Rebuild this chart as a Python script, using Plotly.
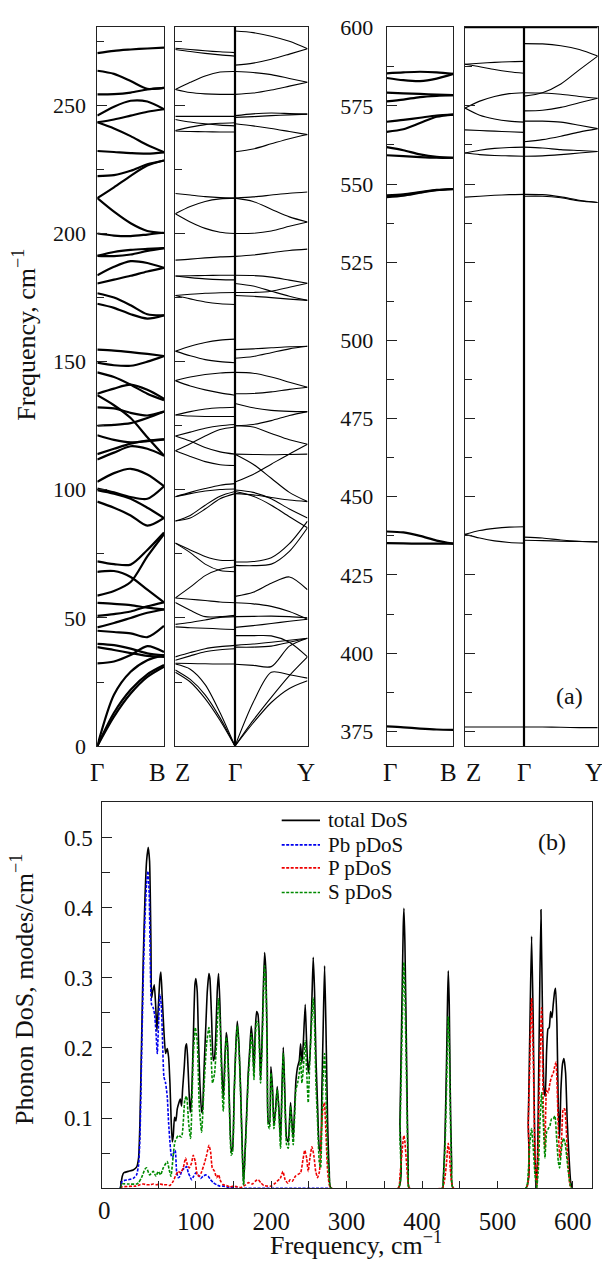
import plotly.graph_objects as go

W, H = 602, 1264

# ---------------- data: phonon dispersion (cm^-1) ----------------
# each branch: frequency at fractions 0, .25, .5, .75, 1 of the segment
K5 = [0.0, 0.25, 0.5, 0.75, 1.0]
G_POS_LOW = 0.4516   # relative position of Gamma on Z-Gamma-Y path (low panel)
G_POS_HIGH = 0.4446  # same for high-frequency panel

GB_LOW = [
    [270.4, 271.3, 271.8, 272.2, 272.5],
    [263.5, 262.3, 259.5, 256.5, 256.8],
    [254.3, 254.4, 255.0, 256.2, 256.8],
    [246.0, 249.5, 251.8, 251.5, 248.5],
    [243.4, 244.5, 246.0, 247.5, 248.5],
    [243.4, 241.0, 238.0, 234.5, 231.7],
    [232.2, 231.8, 231.4, 231.2, 231.7],
    [222.4, 222.8, 224.5, 227.0, 228.5],
    [213.8, 218.0, 222.5, 226.5, 228.5],
    [213.8, 208.5, 204.0, 201.0, 200.2],
    [200.0, 199.2, 199.0, 199.6, 200.3],
    [191.3, 192.8, 193.6, 194.0, 194.3],
    [191.3, 191.2, 191.8, 193.2, 194.3],
    [183.7, 187.0, 189.2, 188.5, 186.6],
    [180.5, 182.0, 183.5, 185.2, 186.6],
    [176.7, 175.0, 172.0, 168.5, 168.1],
    [172.6, 171.0, 168.5, 166.8, 168.1],
    [154.7, 154.3, 153.7, 153.0, 152.2],
    [149.6, 148.6, 148.4, 150.0, 152.2],
    [145.8, 144.0, 141.0, 137.5, 135.0],
    [137.5, 139.5, 141.0, 139.0, 135.5],
    [136.9, 133.0, 128.0, 120.5, 113.3],
    [132.2, 131.8, 130.0, 129.0, 130.5],
    [125.0, 125.3, 126.0, 128.0, 130.5],
    [121.3, 119.5, 118.5, 119.0, 119.7],
    [113.9, 116.0, 118.0, 119.2, 119.7],
    [111.8, 114.5, 117.0, 116.0, 113.3],
    [103.1, 106.5, 108.2, 106.0, 101.4],
    [100.5, 99.0, 97.2, 96.5, 101.4],
    [99.9, 98.5, 96.5, 93.0, 89.0],
    [95.4, 93.0, 90.0, 86.0, 89.0],
    [72.1, 71.0, 70.8, 76.5, 83.3],
    [68.0, 68.3, 66.0, 61.0, 56.1],
    [58.7, 60.5, 64.0, 74.0, 82.7],
    [55.9, 55.5, 55.0, 54.0, 53.3],
    [50.8, 51.5, 52.5, 54.5, 56.1],
    [46.3, 48.0, 50.0, 52.0, 53.3],
    [45.0, 44.5, 44.0, 42.5, 46.9],
    [39.9, 39.4, 38.0, 36.2, 35.4],
    [38.6, 37.5, 36.3, 35.2, 34.8],
    [32.3, 33.0, 35.5, 39.0, 36.7],
    [0.0, 20.0, 29.0, 33.5, 35.5],
    [0.0, 13.0, 22.0, 28.0, 31.6],
    [0.0, 11.5, 20.5, 27.0, 31.0],
]

ZG_LOW = [
    [272.3, 271.8, 271.3, 270.9, 270.6],
    [271.8, 271.0, 270.3, 269.7, 269.2],
    [256.2, 259.0, 261.5, 263.0, 263.2],
    [256.2, 255.0, 254.5, 254.3, 254.3],
    [245.7, 245.7, 245.7, 245.7, 245.7],
    [244.5, 243.5, 242.8, 242.3, 242.0],
    [240.2, 241.5, 242.5, 243.0, 243.2],
    [240.0, 239.8, 239.7, 239.6, 239.6],
    [215.6, 215.0, 214.4, 214.0, 213.8],
    [207.7, 210.5, 212.5, 213.5, 213.8],
    [207.7, 204.5, 202.0, 200.5, 200.0],
    [189.6, 190.0, 190.5, 190.9, 191.1],
    [183.4, 183.5, 183.6, 183.7, 183.7],
    [183.4, 182.8, 182.3, 182.0, 181.9],
    [175.8, 176.3, 176.7, 176.9, 177.0],
    [175.8, 174.5, 173.3, 172.6, 172.3],
    [154.1, 156.0, 157.5, 158.4, 158.8],
    [154.1, 152.3, 150.8, 150.0, 149.6],
    [142.6, 144.0, 145.0, 145.6, 145.8],
    [142.6, 140.5, 139.0, 137.8, 136.9],
    [129.2, 130.5, 131.5, 132.0, 132.2],
    [129.2, 128.8, 128.6, 128.6, 128.6],
    [121.0, 122.5, 124.0, 125.0, 125.5],
    [115.2, 118.0, 121.0, 123.5, 124.5],
    [121.0, 119.0, 116.5, 114.8, 113.9],
    [115.2, 113.0, 111.0, 109.8, 109.5],
    [97.3, 99.0, 100.5, 101.8, 102.4],
    [97.3, 98.5, 99.5, 100.1, 100.3],
    [87.8, 90.0, 94.0, 97.5, 99.3],
    [87.8, 89.0, 92.5, 96.5, 98.5],
    [79.2, 76.5, 74.0, 72.5, 72.5],
    [79.2, 75.5, 71.0, 68.5, 68.0],
    [57.8, 62.0, 66.5, 69.0, 70.0],
    [57.8, 57.3, 56.8, 56.2, 55.9],
    [56.0, 53.0, 50.5, 50.5, 51.0],
    [47.5, 48.2, 49.2, 50.2, 50.5],
    [46.5, 46.2, 46.0, 45.7, 45.5],
    [34.8, 36.5, 38.0, 38.8, 39.3],
    [33.5, 35.2, 36.8, 37.6, 38.0],
    [32.3, 32.2, 32.1, 32.0, 32.0],
    [29.7, 26.0, 20.0, 11.0, 0.0],
    [28.8, 25.0, 18.5, 10.0, 0.0],
    [32.0, 30.0, 24.0, 13.0, 0.0],
]

GY_LOW = [
    [279.0, 278.4, 277.0, 275.0, 272.1],
    [265.7, 266.5, 268.0, 270.0, 272.1],
    [263.2, 262.8, 262.0, 260.5, 259.0],
    [254.3, 254.8, 256.0, 257.5, 259.0],
    [246.0, 246.7, 247.0, 246.8, 246.6],
    [245.3, 245.6, 246.0, 246.3, 246.6],
    [242.8, 242.0, 241.0, 239.8, 238.6],
    [231.9, 233.0, 235.0, 237.0, 238.6],
    [213.8, 214.3, 215.0, 215.7, 216.2],
    [213.8, 212.5, 209.5, 206.5, 204.5],
    [200.0, 200.1, 201.0, 202.8, 204.5],
    [191.1, 191.6, 192.5, 193.4, 193.9],
    [183.7, 183.6, 183.0, 181.8, 180.6],
    [180.5, 179.5, 177.5, 175.5, 173.9],
    [177.0, 177.0, 177.5, 179.0, 180.6],
    [175.8, 175.5, 175.0, 174.4, 173.9],
    [154.7, 155.0, 155.4, 155.8, 156.0],
    [151.3, 152.0, 153.5, 155.0, 156.0],
    [145.8, 145.5, 144.0, 142.0, 140.0],
    [137.5, 137.6, 138.2, 139.2, 140.0],
    [133.7, 132.0, 131.0, 130.6, 130.5],
    [125.0, 125.5, 127.0, 129.0, 130.5],
    [125.0, 124.5, 122.0, 119.5, 117.8],
    [113.9, 113.8, 113.7, 113.8, 113.9],
    [113.9, 110.0, 104.5, 99.0, 95.4],
    [103.0, 106.0, 110.0, 114.0, 117.8],
    [99.9, 99.0, 96.5, 92.5, 89.0],
    [99.3, 97.5, 94.0, 89.5, 85.2],
    [98.5, 98.0, 97.0, 96.0, 95.4],
    [71.8, 72.0, 73.5, 79.0, 87.8],
    [70.5, 70.4, 71.0, 76.0, 85.2],
    [58.4, 60.0, 63.5, 66.0, 61.0],
    [55.9, 55.5, 54.5, 52.5, 49.5],
    [50.5, 50.6, 50.7, 50.5, 50.1],
    [46.3, 47.0, 47.8, 48.7, 49.5],
    [43.1, 43.1, 43.0, 40.5, 34.8],
    [39.3, 39.8, 40.5, 41.3, 42.1],
    [38.6, 38.6, 39.0, 40.5, 42.1],
    [31.9, 31.5, 31.0, 39.0, 42.1],
    [0.0, 17.0, 28.8, 27.8, 26.5],
    [0.0, 10.0, 19.0, 27.5, 34.8],
    [0.0, 9.0, 17.0, 22.5, 25.5],
]

GB_HIGH = [
    [585.4, 585.7, 585.9, 585.7, 585.2],
    [583.9, 583.2, 582.9, 583.7, 585.2],
    [579.2, 579.0, 578.8, 578.6, 578.4],
    [576.4, 577.0, 577.8, 578.2, 578.4],
    [569.9, 570.5, 571.2, 571.9, 572.2],
    [566.7, 567.5, 569.5, 571.5, 572.2],
    [561.8, 560.8, 559.5, 558.7, 558.4],
    [559.2, 558.9, 558.6, 558.4, 558.4],
    [545.8, 546.3, 547.2, 548.0, 548.4],
    [546.4, 546.7, 547.4, 548.1, 548.4],
    [438.9, 438.6, 437.5, 436.0, 435.0],
    [435.2, 435.1, 435.0, 435.0, 435.0],
    [376.6, 376.3, 375.9, 375.6, 375.5],
]

ZG_HIGH = [
    [600.0, 600.0, 600.0, 600.0, 600.0],
    [588.3, 588.6, 588.9, 589.1, 589.2],
    [588.3, 587.5, 586.6, 585.9, 585.4],
    [574.3, 576.5, 578.0, 578.9, 579.2],
    [574.3, 572.0, 570.8, 570.1, 569.8],
    [567.3, 567.1, 566.9, 566.7, 566.5],
    [559.9, 560.8, 561.4, 561.7, 561.8],
    [559.9, 559.4, 559.1, 559.0, 558.9],
    [545.8, 546.1, 546.4, 546.6, 546.7],
    [438.0, 439.2, 439.9, 440.3, 440.4],
    [438.0, 436.8, 435.9, 435.4, 435.2],
    [376.4, 376.4, 376.4, 376.4, 376.4],
]

GY_HIGH = [
    [600.0, 600.0, 600.0, 600.0, 600.0],
    [594.9, 594.8, 594.2, 593.0, 590.9],
    [578.1, 579.2, 582.0, 586.5, 590.9],
    [579.2, 579.1, 578.7, 578.0, 577.4],
    [573.4, 573.6, 574.5, 576.0, 577.4],
    [570.1, 570.1, 569.8, 568.8, 567.7],
    [563.5, 564.2, 565.3, 566.6, 567.7],
    [561.8, 561.5, 561.0, 560.7, 560.4],
    [558.9, 559.0, 559.4, 559.9, 560.4],
    [546.1, 546.1, 545.6, 544.6, 544.1],
    [546.7, 546.6, 545.9, 544.8, 544.1],
    [437.1, 436.8, 436.2, 435.8, 435.6],
    [436.1, 436.0, 435.8, 435.7, 435.6],
    [376.4, 376.4, 376.3, 376.2, 376.2],
]

# ---------------- data: phonon DoS ----------------
TOTAL_F = [0, 2.5, 4.5, 10.4, 17, 21.4, 24.1, 25.9, 28.1, 30.3, 32.5, 34.7, 36.9, 38.7, 40.5, 41.3, 42.7, 44.9,
           46.7, 48.4, 50.2, 52.4, 53.7, 55.5, 57.7, 59.9, 62.1, 63.9, 65.7, 67.4, 68.8, 70.1, 71.8, 73.6, 75.4,
           77.6, 79.4, 81.1, 82.5, 84.7, 86.4, 87.8, 89.1, 90.9, 92.6, 94.4, 96.6, 98.8, 100.1, 101.9, 103.7,
           105.4, 107.7, 109, 110.7, 113, 115.2, 117.4, 118.7, 120.9, 123.1, 124.9, 126.7, 128.4, 130.2, 132,
           134.2, 136.4, 138.6, 140.4, 142.1, 144.3, 147, 148.8, 151, 153.2, 155, 157.2, 159.4, 161.6, 163.3,
           165.1, 167.3, 169.5, 171.7, 173.5, 175.3, 177.1, 178.8, 180.6, 182.4, 184.1, 185.9, 187.7, 189.4,
           191.2, 193, 194.7, 196.1, 197.8, 199.6, 201.8, 203.6, 205.8, 208, 210.2, 212.4, 214.2, 216, 217.7,
           220.4, 222.6, 224.4, 225.7, 227.5, 229.2, 231, 232.8, 235, 237.2, 239, 240.7, 242.5, 245.1, 246.9,
           249.1, 251.3, 254, 255.7, 257.5, 259.3, 261.5, 263.7, 265.5, 267.2, 269, 270.8, 272.5, 274.8, 277,
           279.2, 368.5, 370.7, 372.9, 375.1, 376, 377.3, 379.5, 381.7, 383, 427.3, 428.1, 430.4, 432.6, 433.9,
           434.8, 436.1, 437.4, 439.2, 441.4, 537.8, 540.9, 543.1, 545.3, 547.5, 549.7, 551.9, 553.3, 555.5,
           557.7, 559.9, 561.7, 563.4, 565.2, 567, 568.7, 570.5, 572.3, 574, 575.8, 577.1, 578.9, 580.7, 582.4,
           584.2, 586.4, 588.2, 590.4, 592.6, 594.8, 597, 599.2]
TOTAL_V = [0, 0.017, 0.022, 0.024, 0.026, 0.030, 0.043, 0.094, 0.21, 0.327, 0.411, 0.466, 0.486, 0.466, 0.35,
           0.271, 0.28, 0.29, 0.262, 0.224, 0.257, 0.299, 0.308, 0.271, 0.224, 0.192, 0.199, 0.187, 0.15, 0.094,
           0.066, 0.075, 0.101, 0.096, 0.113, 0.122, 0.127, 0.117, 0.141, 0.173, 0.201, 0.206, 0.187, 0.141,
           0.108, 0.131, 0.21, 0.29, 0.299, 0.28, 0.206, 0.15, 0.108, 0.113, 0.164, 0.224, 0.28, 0.306, 0.299,
           0.243, 0.182, 0.187, 0.224, 0.28, 0.306, 0.262, 0.178, 0.127, 0.187, 0.222, 0.206, 0.131, 0.052,
           0.057, 0.141, 0.206, 0.238, 0.206, 0.141, 0.057, 0.005, 0.047, 0.103, 0.164, 0.201, 0.231, 0.21,
           0.164, 0.224, 0.252, 0.248, 0.22, 0.154, 0.206, 0.28, 0.336, 0.308, 0.196, 0.094, 0.092, 0.173,
           0.141, 0.089, 0.113, 0.145, 0.113, 0.066, 0.141, 0.201, 0.15, 0.071, 0.066, 0.099, 0.122, 0.094,
           0.071, 0.113, 0.154, 0.173, 0.182, 0.206, 0.178, 0.206, 0.262, 0.21, 0.164, 0.187, 0.271, 0.329,
           0.28, 0.187, 0.117, 0.057, 0.052, 0.141, 0.234, 0.317, 0.234, 0.094, 0.024, 0, 0, 0.094, 0.234,
           0.373, 0.399, 0.35, 0.187, 0.024, 0, 0, 0.01, 0.071, 0.187, 0.271, 0.31, 0.262, 0.141, 0.038, 0, 0,
           0.094, 0.234, 0.359, 0.234, 0.047, 0.002, 0.047, 0.234, 0.397, 0.234, 0.141, 0.131, 0.196, 0.227,
           0.229, 0.252, 0.243, 0.262, 0.28, 0.285, 0.234, 0.117, 0.071, 0.141, 0.178, 0.185, 0.164, 0.094,
           0.047, 0.01, 0]

PB_F = [0, 2.5, 10.4, 17, 21.4, 24.1, 25.9, 28.1, 30.3, 32.5, 34.7, 36.5, 38.2, 39.6, 41.3, 43.6, 45.3, 47.1,
        48.9, 50.6, 52.4, 54.2, 56, 57.7, 59.9, 62.1, 63.9, 65.7, 67.4, 69.2, 71, 72.7, 74.5, 76.7, 79, 81.1,
        83.3, 85.5, 87.8, 90, 92.2, 94.4, 96.6, 100.1, 103.3, 106.4, 109.6, 113, 116.5, 119.6, 123.1, 127.5,
        132, 136.4, 145, 154, 279]
PB_V = [0, 0.01, 0.012, 0.014, 0.019, 0.033, 0.071, 0.187, 0.299, 0.383, 0.434, 0.452, 0.42, 0.327, 0.262,
        0.257, 0.248, 0.224, 0.192, 0.234, 0.276, 0.262, 0.206, 0.159, 0.15, 0.131, 0.094, 0.066, 0.047, 0.043,
        0.052, 0.054, 0.024, 0.015, 0.017, 0.024, 0.027, 0.029, 0.031, 0.022, 0.017, 0.012, 0.016, 0.022,
        0.019, 0.014, 0.017, 0.019, 0.017, 0.012, 0.008, 0.005, 0.003, 0.003, 0.001, 0, 0]

P_F = [0, 2.5, 20, 25.9, 30.3, 34.7, 39, 43.6, 48, 52.4, 57, 61.6, 65.7, 70.1, 73.6, 76.7, 79.8, 83.3, 86.4,
       88.7, 91.3, 94.4, 96.6, 99.3, 101.9, 104.6, 107.2, 110.7, 114.3, 117.4, 119.6, 121.8, 124.9, 127.5,
       130.2, 132.9, 136.4, 140.8, 145, 150, 155, 160, 165, 170, 175, 180, 183, 186, 190, 195, 200, 205, 208,
       212, 215.5, 218.5, 222, 225, 228, 232, 236, 239, 242, 244.5, 247, 249, 251.3, 254, 256.5, 259, 261.5,
       264, 266.5, 268.5, 270.5, 272.5, 274.8, 277, 279.2, 368.5, 370.7, 372.9, 375.1, 376, 377.3, 379.5,
       381.7, 383, 427.3, 428.1, 430.4, 432.6, 433.9, 434.8, 436.1, 437.4, 439.2, 441.4, 537.8, 540.9, 543.1,
       545.3, 547.5, 549.7, 551.9, 554.1, 556.4, 558.6, 560.8, 563, 565.2, 567.4, 569.6, 571.8, 574, 575.8,
       577.6, 579.3, 581.1, 582.9, 585.1, 587.3, 589.1, 590.8, 593, 596.1, 598.3]
P_V = [0, 0.002, 0.003, 0.005, 0.006, 0.005, 0.005, 0.006, 0.005, 0.006, 0.005, 0.005, 0.004, 0.01, 0.019,
       0.024, 0.022, 0.029, 0.043, 0.034, 0.029, 0.036, 0.047, 0.038, 0.019, 0.017, 0.022, 0.033, 0.047,
       0.061, 0.052, 0.029, 0.024, 0.015, 0.019, 0.01, 0.005, 0.004, 0.002, 0.003, 0.002, 0.001, 0.004,
       0.008, 0.006, 0.011, 0.012, 0.008, 0.004, 0.003, 0.003, 0.007, 0.01, 0.014, 0.024, 0.012, 0.007,
       0.012, 0.01, 0.017, 0.02, 0.022, 0.04, 0.054, 0.043, 0.024, 0.043, 0.059, 0.047, 0.024, 0.015, 0.024,
       0.08, 0.113, 0.122, 0.08, 0.024, 0.005, 0, 0, 0.018, 0.044, 0.07, 0.075, 0.066, 0.035, 0.005, 0, 0,
       0.002, 0.015, 0.038, 0.056, 0.064, 0.054, 0.029, 0.008, 0, 0, 0.094, 0.187, 0.271, 0.187, 0.047, 0,
       0.071, 0.187, 0.257, 0.117, 0.057, 0.141, 0.136, 0.15, 0.159, 0.164, 0.173, 0.18, 0.141, 0.071, 0.043,
       0.071, 0.113, 0.113, 0.094, 0.047, 0.005, 0]

S_F = [0, 2.5, 10, 21.4, 24.1, 28, 32.5, 34.7, 38.7, 43.6, 47.1, 50.2, 53.3, 56.8, 62.1, 64.8, 67, 72.3, 76.7,
       81.1, 85.5, 87.8, 90.4, 93.1, 96.6, 99.3, 101.9, 104.6, 107.7, 110.7, 114.3, 117.4, 119.6, 122.2, 124.9,
       127.5, 130.2, 132, 134.2, 136.4, 138.6, 140.4, 142.1, 144.3, 147, 148.8, 151, 153.2, 155, 157.2, 159.4,
       161.6, 163.3, 165.1, 167.3, 169.5, 171.7, 173.5, 175.3, 177.1, 178.8, 180.6, 182.4, 184.1, 185.9,
       187.7, 189.4, 191.2, 193, 194.7, 196.1, 197.8, 199.6, 201.8, 203.6, 205.8, 208, 210.2, 212.4, 214.2,
       216, 217.7, 220.4, 222.6, 224.4, 225.7, 227.5, 229.2, 231, 232.8, 235, 237.2, 239, 240.7, 242.5, 245.1,
       246.9, 249.1, 251.3, 254, 255.7, 257.5, 259.3, 261.5, 263.7, 265.5, 267.2, 269, 270.8, 272.5, 274.8,
       277, 279.2, 368.5, 370.7, 372.9, 375.1, 376, 377.3, 379.5, 381.7, 383, 427.3, 428.1, 430.4, 432.6,
       433.9, 434.8, 436.1, 437.4, 439.2, 441.4, 537.8, 540.9, 543.1, 545.3, 547.5, 549.7, 551.9, 554.1,
       556.4, 558.6, 560.8, 563, 565.2, 567.4, 569.6, 571.8, 574, 576.2, 578.5, 580.7, 582.4, 585.1, 587.3,
       589.5, 591.7, 593.9, 597, 598.3]
S_V = [0, 0.006, 0.006, 0.006, 0.008, 0.015, 0.027, 0.029, 0.019, 0.024, 0.017, 0.024, 0.019, 0.029, 0.038,
       0.026, 0.017, 0.066, 0.075, 0.073, 0.126, 0.131, 0.094, 0.071, 0.187, 0.229, 0.21, 0.117, 0.08, 0.141,
       0.206, 0.229, 0.206, 0.15, 0.164, 0.206, 0.27, 0.24, 0.16, 0.11, 0.17, 0.215, 0.2, 0.125, 0.047, 0.052,
       0.133, 0.2, 0.232, 0.2, 0.135, 0.052, 0.004, 0.042, 0.096, 0.155, 0.19, 0.22, 0.198, 0.155, 0.21,
       0.238, 0.236, 0.205, 0.15, 0.195, 0.26, 0.317, 0.29, 0.185, 0.089, 0.085, 0.164, 0.134, 0.085, 0.108,
       0.141, 0.108, 0.057, 0.13, 0.192, 0.14, 0.062, 0.057, 0.09, 0.117, 0.085, 0.062, 0.1, 0.141, 0.15,
       0.164, 0.187, 0.15, 0.17, 0.21, 0.17, 0.122, 0.187, 0.243, 0.271, 0.234, 0.15, 0.094, 0.038, 0.029,
       0.094, 0.164, 0.192, 0.141, 0.047, 0.015, 0, 0, 0.076, 0.19, 0.30, 0.322, 0.28, 0.15, 0.02, 0, 0,
       0.008, 0.056, 0.148, 0.214, 0.245, 0.207, 0.111, 0.03, 0, 0, 0.024, 0.066, 0.085, 0.057, 0.02, 0,
       0.024, 0.094, 0.136, 0.094, 0.043, 0.08, 0.085, 0.089, 0.099, 0.099, 0.103, 0.071, 0.038, 0.029, 0.057,
       0.071, 0.066, 0.047, 0.024, 0.002, 0]

GB_LABELS = ["Γ", "B"]
ZGY_LABELS = ["Z", "Γ", "Y"]
LOW_TICKS = [0, 50, 100, 150, 200, 250]
HIGH_TICKS = [375, 400, 425, 450, 475, 500, 525, 550, 575, 600]
DOS_XTICKS = [0, 100, 200, 300, 400, 500, 600]
DOS_YTICKS = [0.1, 0.2, 0.3, 0.4, 0.5]
SERIES_NAMES = ["total DoS", "Pb pDoS", "P pDoS", "S pDoS"]
SERIES_COLORS = ["black", "#0000ee", "#ee0000", "#008a00"]

# ---------------- figure ----------------
FONT = "Liberation Serif"
fig = go.Figure()


def px(x):
    return x / W


def py(y):
    return 1 - y / H


def add_branches(branches, xs, xa, ya, width):
    for b in branches:
        fig.add_trace(go.Scatter(
            x=xs, y=b, mode="lines", xaxis=xa, yaxis=ya, showlegend=False, hoverinfo="skip",
            line=dict(color="black", width=width, shape="spline", smoothing=0.8)))


def seg_x(g, first):
    if first:
        return [k * g for k in K5]
    return [g + k * (1 - g) for k in K5]


add_branches(GB_LOW, K5, "x", "y", 2.2)
add_branches(ZG_LOW, seg_x(G_POS_LOW, True), "x2", "y2", 1.1)
add_branches(GY_LOW, seg_x(G_POS_LOW, False), "x2", "y2", 1.1)
add_branches(GB_HIGH, K5, "x3", "y3", 2.2)
add_branches(ZG_HIGH, seg_x(G_POS_HIGH, True), "x4", "y4", 1.1)
add_branches(GY_HIGH, seg_x(G_POS_HIGH, False), "x4", "y4", 1.1)

DASH = "3px,1.5px"
DASHES = ["solid", DASH, DASH, DASH]
for (fx, fv), name, col, dash in zip(((TOTAL_F, TOTAL_V), (PB_F, PB_V), (P_F, P_V), (S_F, S_V)),
                                     SERIES_NAMES, SERIES_COLORS, DASHES):
    fig.add_trace(go.Scatter(x=fx, y=fv, mode="lines", name=name, xaxis="x5", yaxis="y5", showlegend=False,
                             line=dict(color=col, width=1.6, dash=dash, shape="spline", smoothing=0.5)))

box = dict(showline=True, linecolor="#222", linewidth=1, mirror=True, showgrid=False, zeroline=False)
noxt = dict(showticklabels=False, ticks="")
ya_top, ya_bot = 16, 749.3
tf = dict(family=FONT, size=22, color="#111")

layout = dict(
    width=W, height=H, margin=dict(l=0, r=0, t=0, b=0),
    paper_bgcolor="white", plot_bgcolor="white", showlegend=False,
    font=dict(family=FONT, color="#111"),
    xaxis=dict(domain=[px(97.3), px(164)], range=[0, 1], anchor="y", **box, **noxt),
    xaxis2=dict(domain=[px(175.3), px(307.5)], range=[0, 1], anchor="y2", **box, **noxt),
    xaxis3=dict(domain=[px(386.7), px(453.3)], range=[0, 1], anchor="y3", **box, **noxt),
    xaxis4=dict(domain=[px(465), px(597.7)], range=[0, 1], anchor="y4", **box, **noxt),
    yaxis=dict(domain=[py(ya_bot), py(ya_top)], range=[0, 280.7], anchor="x", **box,
               ticks="inside", tickvals=LOW_TICKS, ticklen=10, tickcolor="#222", tickfont=tf,
               ticklabelstandoff=6, minor=dict(ticks="inside", tick0=0, dtick=25, ticklen=7, tickcolor="#222")),
    yaxis2=dict(domain=[py(ya_bot), py(ya_top)], range=[0, 280.7], anchor="x2", **box,
                ticks="inside", tickvals=LOW_TICKS, ticklen=10, tickcolor="#222", showticklabels=False,
                minor=dict(ticks="inside", tick0=0, dtick=25, ticklen=7, tickcolor="#222")),
    yaxis3=dict(domain=[py(ya_bot), py(ya_top)], range=[370.3, 600.3], anchor="x3", **box,
                ticks="inside", tickvals=HIGH_TICKS, ticklen=10, tickcolor="#222", tickfont=tf,
                ticklabelstandoff=8,
                minor=dict(ticks="inside", tick0=375, dtick=12.5, ticklen=7, tickcolor="#222")),
    yaxis4=dict(domain=[py(ya_bot), py(ya_top)], range=[370.3, 600.3], anchor="x4", **box,
                ticks="inside", tickvals=HIGH_TICKS, ticklen=10, tickcolor="#222", showticklabels=False,
                minor=dict(ticks="inside", tick0=375, dtick=12.5, ticklen=7, tickcolor="#222")),
    xaxis5=dict(domain=[px(102.3), px(591.7)], range=[-24, 625], anchor="y5", **box,
                ticks="inside", tickvals=DOS_XTICKS, ticktext=[""] + [str(v) for v in DOS_XTICKS[1:]],
                ticklen=7, tickcolor="#222", tickfont=dict(family=FONT, size=25, color="#111"),
                ticklabelstandoff=11,
                minor=dict(ticks="inside", tick0=0, dtick=50, ticklen=7, tickcolor="#222")),
    yaxis5=dict(domain=[py(1200), py(806.7)], range=[0, 0.55], anchor="x5", **box,
                ticks="inside", tickvals=DOS_YTICKS, ticktext=[f"{v:.1f}" for v in DOS_YTICKS],
                ticklen=10, tickcolor="#222", tickfont=dict(family=FONT, size=23, color="#111"),
                ticklabelstandoff=4,
                minor=dict(ticks="inside", tick0=0, dtick=0.05, ticklen=8, tickcolor="#222")),
)
fig.update_layout(**layout)

# Gamma vertical lines
for xr, yr, g in (("x2", "y2", G_POS_LOW), ("x4", "y4", G_POS_HIGH)):
    fig.add_shape(type="line", xref=xr, yref=yr + " domain", x0=g, x1=g, y0=0, y1=1,
                  line=dict(color="black", width=2.2))

ann = []
lab_font = dict(family=FONT, size=25, color="#111")
label_y = py(776.7)
for xpix, t in ((96.7, GB_LABELS[0]), (157, GB_LABELS[1]), (182.7, ZGY_LABELS[0]), (235, ZGY_LABELS[1]),
                (306, ZGY_LABELS[2]), (390, GB_LABELS[0]), (448.3, GB_LABELS[1]), (473.3, ZGY_LABELS[0]),
                (524, ZGY_LABELS[1]), (593.5, ZGY_LABELS[2])):
    ann.append(dict(x=px(xpix), y=label_y, xref="paper", yref="paper", text=t, showarrow=False,
                    font=lab_font, xanchor="center", yanchor="middle"))
ann.append(dict(x=px(25), y=py(330), xref="paper", yref="paper", text="Frequency, cm<sup>−1</sup>",
                showarrow=False, textangle=-90, font=dict(family=FONT, size=26, color="#111"),
                xanchor="center", yanchor="middle"))
ann.append(dict(x=px(22), y=py(998), xref="paper", yref="paper", text="Phonon DoS, modes/cm<sup>−1</sup>",
                showarrow=False, textangle=-90, font=dict(family=FONT, size=26, color="#111"),
                xanchor="center", yanchor="middle"))
ann.append(dict(x=px(356), y=py(1256), xref="paper", yref="paper", text="Frequency, cm<sup>−1</sup>",
                showarrow=False, font=dict(family=FONT, size=26, color="#111"),
                xanchor="center", yanchor="middle"))
ann.append(dict(x=px(104.3), y=py(1223), xref="paper", yref="paper", text="0", showarrow=False,
                font=dict(family=FONT, size=25, color="#111"), xanchor="center", yanchor="middle"))
ann.append(dict(x=px(569), y=py(698), xref="paper", yref="paper", text="(a)", showarrow=False,
                font=dict(family=FONT, size=24, color="#111"), xanchor="center", yanchor="middle"))
ann.append(dict(x=px(551.7), y=py(846.7), xref="paper", yref="paper", text="(b)", showarrow=False,
                font=dict(family=FONT, size=24, color="#111"), xanchor="center", yanchor="middle"))

# legend (drawn as line samples + labels)
LEG_Y = [825, 850, 873.5, 898.5]
for yy, name, col, dash in zip(LEG_Y, SERIES_NAMES, SERIES_COLORS, DASHES):
    fig.add_shape(type="line", xref="paper", yref="paper", x0=px(281.7), x1=px(320), y0=py(yy), y1=py(yy),
                  line=dict(color=col, width=1.6, dash=dash))
    ann.append(dict(x=px(326), y=py(yy), xref="paper", yref="paper", text=name, showarrow=False,
                    font=dict(family=FONT, size=21, color="#111"), xanchor="left", yanchor="middle"))
fig.update_layout(annotations=ann)

fig.write_html("out.html")
